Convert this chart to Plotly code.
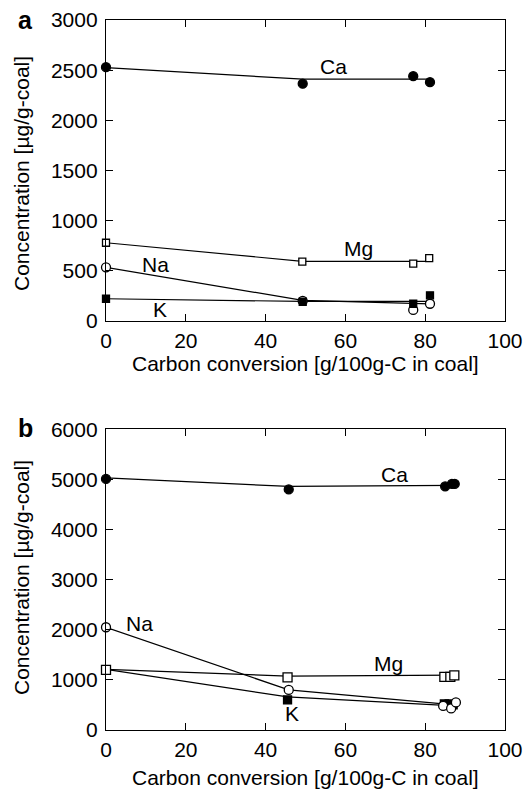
import plotly.graph_objects as go

# ---------------- data: panel a ----------------
a_ca_x = [0, 49.3, 77.0, 81.2]
a_ca_y = [2530, 2365, 2440, 2380]
a_mg_x = [0, 49.2, 77.0, 81.0]
a_mg_y = [780, 591, 571, 627]
a_na_x = [0, 49.3, 77.0, 81.2]
a_na_y = [535, 200, 110, 172]
a_k_x = [0, 49.3, 77.0, 81.2]
a_k_y = [222, 192, 172, 256]

# trend lines panel a
a_ca_fit_x = [0, 49.3, 81.2]
a_ca_fit_y = [2525, 2410, 2410]
a_mg_fit_x = [0, 49.2, 81.0]
a_mg_fit_y = [780, 595, 595]
a_na_fit_x = [0, 49.3, 81.2]
a_na_fit_y = [535, 205, 170]
a_k_fit_x = [0, 49.3, 81.2]
a_k_fit_y = [222, 195, 195]

# ---------------- data: panel b ----------------
b_ca_x = [0, 45.8, 85.0, 86.7, 87.4]
b_ca_y = [5010, 4800, 4860, 4910, 4910]
b_mg_x = [0, 45.5, 84.8, 86.3, 87.3]
b_mg_y = [1200, 1050, 1060, 1060, 1090]
b_na_x = [0, 45.8, 84.5, 86.5, 87.7]
b_na_y = [2050, 800, 480, 430, 550]
b_k_x = [0, 45.5, 84.8, 86.0, 87.0]
b_k_y = [1200, 600, 520, 520, 500]

b_ca_fit_x = [0, 45.8, 87.3]
b_ca_fit_y = [5030, 4860, 4880]
b_mg_fit_x = [0, 45.5, 87.3]
b_mg_fit_y = [1210, 1075, 1095]
b_na_fit_x = [0, 45.8, 87.3]
b_na_fit_y = [2050, 800, 500]
b_k_fit_x = [0, 45.5, 87.3]
b_k_fit_y = [1210, 660, 480]

x_ticks = [0, 20, 40, 60, 80, 100]
a_y_ticks = [0, 500, 1000, 1500, 2000, 2500, 3000]
b_y_ticks = [0, 1000, 2000, 3000, 4000, 5000, 6000]

x_title = "Carbon conversion [g/100g-C in coal]"
y_title = "Concentration [µg/g-coal]"

FONT = "Liberation Sans, Arial, sans-serif"
W, H = 528, 789

fig = go.Figure()


def add_panel(xa, ya, fits, pts):
    for fx, fy in fits:
        fig.add_trace(go.Scatter(x=fx, y=fy, mode="lines", xaxis=xa, yaxis=ya,
                                 line=dict(color="black", width=1.2),
                                 showlegend=False, hoverinfo="skip", cliponaxis=False))
    for px, py, sym, filled, size in pts:
        fig.add_trace(go.Scatter(x=px, y=py, mode="markers", xaxis=xa, yaxis=ya,
                                 marker=dict(symbol=sym, size=size,
                                             color="black" if filled else "white",
                                             line=dict(color="black", width=1.3)),
                                 showlegend=False, cliponaxis=False))


add_panel("x", "y",
          [(a_ca_fit_x, a_ca_fit_y), (a_mg_fit_x, a_mg_fit_y), (a_na_fit_x, a_na_fit_y), (a_k_fit_x, a_k_fit_y)],
          [(a_ca_x, a_ca_y, "circle", True, 9), (a_na_x, a_na_y, "circle", False, 9),
           (a_mg_x, a_mg_y, "square", False, 7), (a_k_x, a_k_y, "square", True, 7)])
add_panel("x2", "y2",
          [(b_ca_fit_x, b_ca_fit_y), (b_mg_fit_x, b_mg_fit_y), (b_na_fit_x, b_na_fit_y), (b_k_fit_x, b_k_fit_y)],
          [(b_ca_x, b_ca_y, "circle", True, 9), (b_k_x, b_k_y, "square", True, 8),
           (b_mg_x, b_mg_y, "square", False, 9), (b_na_x, b_na_y, "circle", False, 9)])

x_dom = [106 / W, 505 / W]
a_dom = [1 - 321 / H, 1 - 20 / H]
b_dom = [1 - 730 / H, 1 - 429.3 / H]

axis_common = dict(showline=True, linecolor="black", linewidth=1.3, mirror="ticks",
                   ticks="inside", ticklen=7, tickwidth=1.2, tickcolor="black",
                   showgrid=False, zeroline=False,
                   tickfont=dict(family=FONT, size=21, color="black"))

fig.update_layout(
    width=W, height=H, template="none",
    paper_bgcolor="white", plot_bgcolor="white",
    margin=dict(l=0, r=0, t=0, b=0),
    xaxis=dict(domain=x_dom, anchor="y", range=[0, 100], tickvals=x_ticks,
               ticklabelstandoff=1, **axis_common),
    yaxis=dict(domain=a_dom, anchor="x", range=[0, 3000], tickvals=a_y_ticks,
               ticklabelstandoff=3, **axis_common),
    xaxis2=dict(domain=x_dom, anchor="y2", range=[0, 100], tickvals=x_ticks,
                ticklabelstandoff=1, **axis_common),
    yaxis2=dict(domain=b_dom, anchor="x2", range=[0, 6000], tickvals=b_y_ticks,
                ticklabelstandoff=3, **axis_common),
)

lab_font = dict(family=FONT, size=21, color="black")
annots = [
    # element labels panel a
    dict(x=57.1, y=2533, xref="x", yref="y", text="Ca"),
    dict(x=63.2, y=724, xref="x", yref="y", text="Mg"),
    dict(x=12.4, y=565, xref="x", yref="y", text="Na"),
    dict(x=13.5, y=110, xref="x", yref="y", text="K"),
    # element labels panel b
    dict(x=72.3, y=5104, xref="x2", yref="y2", text="Ca"),
    dict(x=70.8, y=1331, xref="x2", yref="y2", text="Mg"),
    dict(x=8.5, y=2116, xref="x2", yref="y2", text="Na"),
    dict(x=46.7, y=333, xref="x2", yref="y2", text="K"),
]
for a in annots:
    fig.add_annotation(showarrow=False, font=lab_font, xanchor="center", yanchor="middle", **a)

# axis titles
for ycen in (363, 777):
    fig.add_annotation(x=(106 + 505) / 2 / W, y=1 - ycen / H, xref="paper", yref="paper",
                       text=x_title, showarrow=False, font=lab_font,
                       xanchor="center", yanchor="middle")
for ycen in (174, 578):
    fig.add_annotation(x=21 / W, y=1 - ycen / H, xref="paper", yref="paper",
                       text=y_title, showarrow=False, font=lab_font, textangle=-90,
                       xanchor="center", yanchor="middle")

# panel letters
for letter, ycen in (("a", 20), ("b", 428)):
    fig.add_annotation(x=25 / W, y=1 - ycen / H, xref="paper", yref="paper",
                       text="<b>" + letter + "</b>", showarrow=False,
                       font=dict(family=FONT, size=25, color="black"),
                       xanchor="center", yanchor="middle")

fig.write_html("out.html",
               config={"displayModeBar": False},
               post_script="document.body.style.margin='0';document.body.style.overflow='hidden';")
